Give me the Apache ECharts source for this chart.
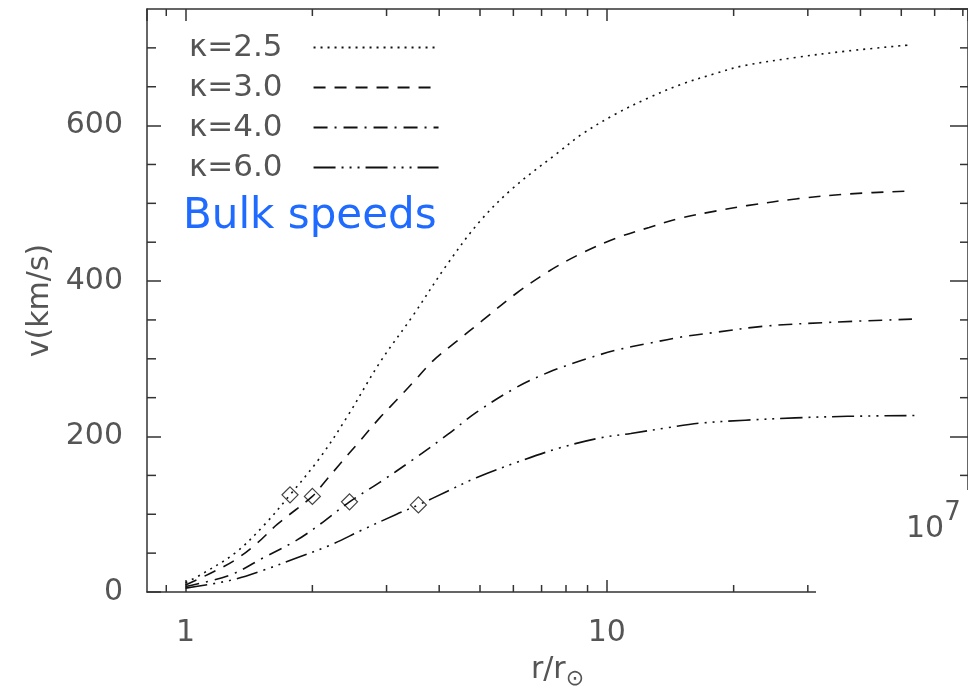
<!DOCTYPE html>
<html>
<head>
<meta charset="utf-8">
<script src="https://cdn.jsdelivr.net/npm/echarts@6/dist/echarts.min.js"></script>
<style>
  html, body { margin: 0; padding: 0; background: #fff; }
  #chart { width: 968px; height: 697px; }
</style>
</head>
<body>
<div id="chart"></div>
<script>
// Bulk flow speed v (km/s) against heliocentric distance r/r_sun, one curve per kappa.
const rK25 = [1.0, 1.085, 1.31, 1.53, 1.77, 2.08, 2.41, 2.89, 3.46, 4.16, 4.98, 5.97, 7.69, 8.73, 10.5, 12.6, 15.0, 18.1, 21.1, 28.4, 37.3, 53.0];
const vK25 = [12, 22, 50, 85, 125, 172, 224, 295, 355, 420, 476, 519, 566, 589, 615, 636, 653, 667, 677, 688, 696, 704];

const rK30 = [1.0, 1.165, 1.31, 1.48, 1.65, 2.0, 2.12, 2.32, 2.59, 2.89, 3.17, 3.46, 3.86, 4.39, 5.06, 6.09, 7.30, 8.73, 10.5, 12.6, 15.0, 18.1, 21.5, 28.4, 37.3, 53.0];
const vK30 = [9, 26, 41, 63, 87, 123, 139, 164, 194, 224, 247, 269, 297, 322, 349, 384, 413, 436, 455, 469, 481, 490, 497, 506, 512, 516];

const rK40 = [1.0, 1.278, 1.53, 1.84, 2.12, 2.45, 2.89, 3.46, 4.20, 4.90, 6.09, 7.30, 8.73, 10.5, 12.6, 15.0, 18.1, 23.7, 34.1, 53.0];
const vK40 = [7, 22, 44, 67, 90, 116, 141, 170, 203, 231, 263, 283, 298, 311, 320, 328, 334, 342, 347, 351];

const rK60 = [1.0, 1.278, 1.53, 1.84, 2.20, 2.63, 3.17, 3.57, 4.16, 4.90, 6.2, 7.69, 9.6, 11.4, 13.8, 16.5, 21.3, 28.0, 37.3, 54.0];
const vK60 = [5, 15, 28, 44, 60, 80, 100, 112, 129, 147, 168, 185, 198, 204, 211, 217, 221, 224, 226, 227];

// Sonic-point markers, one per curve.
const sonicR = [1.77, 2.0, 2.45, 3.57];
const sonicV = [125, 123, 116, 112];

const seriesNames = ['\u03ba=2.5', '\u03ba=3.0', '\u03ba=4.0', '\u03ba=6.0'];

// Axis ranges and tick positions.
const X_MIN = 0.81, X_MAX = 72;
const Y_MIN = 0, Y_MAX = 750, Y_STEP = 200;
const xMinorTicks = [0.9, 2, 3, 4, 5, 6, 7, 8, 9, 20, 30, 40, 50, 60, 70];
const yMinorTicks = [50, 100, 150, 250, 300, 350, 450, 500, 550, 650, 700];

const FONT = 'DejaVu Sans';
const INK = '#333';
const TEXT = '#555';

const chart = echarts.init(document.getElementById('chart'), null, { renderer: 'canvas' });

function pairs(r, v) { return r.map((x, i) => [x, v[i]]); }

const dashPatterns = [
  [2, 5],
  [12, 9],
  [14, 7, 2, 7],
  [22, 6, 2, 6, 2, 6, 2, 6]
];
const curves = [[rK25, vK25], [rK30, vK30], [rK40, vK40], [rK60, vK60]];

const lineSeries = curves.map((c, i) => ({
  name: seriesNames[i],
  type: 'line',
  data: pairs(c[0], c[1]),
  smooth: 0.35,
  symbol: 'none',
  showSymbol: false,
  lineStyle: { color: '#111', width: 1.6, type: dashPatterns[i] },
  itemStyle: { color: '#111' },
  z: 3
}));

const baseX = {
  type: 'log', logBase: 10, min: X_MIN, max: X_MAX,
  axisLine: { show: true, onZero: false, lineStyle: { color: INK, width: 1.5 } },
  axisTick: { show: true, inside: true, length: 12, lineStyle: { color: INK, width: 1.5 } },
  splitLine: { show: false },
  minorTick: { show: false }
};
const baseY = {
  type: 'value', min: Y_MIN, max: Y_MAX, interval: Y_STEP,
  axisLine: { show: true, onZero: false, lineStyle: { color: INK, width: 1.5 } },
  splitLine: { show: false }
};

const option = {
  animation: false,
  backgroundColor: '#fff',
  grid: { left: 147, top: 9, right: -3, bottom: 105, containLabel: false },
  legend: {
    data: seriesNames,
    orient: 'vertical',
    left: 184, top: 27,
    align: 'right',
    itemWidth: 125, itemHeight: 14, itemGap: 9,
    itemStyle: { color: 'rgba(0,0,0,0)', borderWidth: 0, opacity: 0 },
    textStyle: { fontFamily: FONT, fontSize: 31, color: TEXT, padding: [0, 26, 0, 0] },
    selectedMode: false
  },
  xAxis: [
    Object.assign({}, baseX, {
      position: 'bottom',
      axisLabel: { show: true, fontFamily: FONT, fontSize: 30, color: TEXT, margin: 26, showMinLabel: false, showMaxLabel: false },
      name: 'r/r{s|\u2299}',
      nameLocation: 'middle', nameGap: 58,
      nameTextStyle: {
        fontFamily: FONT, fontSize: 30, color: TEXT,
        rich: { s: { fontFamily: FONT, fontSize: 22, color: TEXT, padding: [18, 0, 0, 0] } }
      }
    }),
    Object.assign({}, baseX, { position: 'top', axisLabel: { show: false } })
  ],
  yAxis: [
    Object.assign({}, baseY, {
      position: 'left',
      axisTick: { show: true, inside: true, length: 14, lineStyle: { color: INK, width: 1.5 } },
      axisLabel: { fontFamily: FONT, fontSize: 30, color: TEXT, margin: 24, showMaxLabel: false },
      name: 'v(km/s)', nameLocation: 'middle', nameGap: 90, nameRotate: 90,
      nameTextStyle: { fontFamily: FONT, fontSize: 30, color: TEXT }
    }),
    Object.assign({}, baseY, {
      position: 'right',
      axisTick: { show: true, inside: true, length: 18, lineStyle: { color: INK, width: 1.5 } },
      axisLabel: { show: false }
    })
  ],
  series: lineSeries.concat([
    {
      name: 'sonic',
      type: 'scatter',
      data: pairs(sonicR, sonicV),
      symbol: 'diamond',
      symbolSize: 16,
      itemStyle: { color: 'rgba(255,255,255,0)', borderColor: '#111', borderWidth: 1.2 },
      z: 4, silent: true
    },
    {
      name: 'xMinor',
      type: 'custom',
      data: xMinorTicks.map(r => [r, Y_MIN]),
      clip: false, silent: true,
      renderItem: function (params, api) {
        const r = api.value(0);
        const b = api.coord([r, Y_MIN]);
        const t = api.coord([r, Y_MAX]);
        const st = { stroke: INK, lineWidth: 1.5 };
        return { type: 'group', children: [
          { type: 'line', shape: { x1: b[0], y1: b[1], x2: b[0], y2: b[1] - 7 }, style: st },
          { type: 'line', shape: { x1: t[0], y1: t[1], x2: t[0], y2: t[1] + 7 }, style: st }
        ] };
      }
    },
    {
      name: 'yMinor',
      type: 'custom',
      data: yMinorTicks.map(v => [X_MIN, v]),
      clip: false, silent: true,
      renderItem: function (params, api) {
        const v = api.value(1);
        const l = api.coord([X_MIN, v]);
        const r = api.coord([X_MAX, v]);
        const st = { stroke: INK, lineWidth: 1.5 };
        return { type: 'group', children: [
          { type: 'line', shape: { x1: l[0], y1: l[1], x2: l[0] + 9, y2: l[1] }, style: st },
          { type: 'line', shape: { x1: r[0], y1: r[1], x2: r[0] - 8, y2: r[1] }, style: st }
        ] };
      }
    }
  ]),
  graphic: [
    {
      type: 'text', left: 183, top: 196, z: 10,
      style: { text: 'Bulk speeds', fontFamily: FONT, fontSize: 42, fill: '#1f6bff' }
    },
    {
      type: 'rect', left: 816, top: 490, z: 20,
      shape: { width: 160, height: 210 },
      style: { fill: '#fff' }
    },
    {
      type: 'text', left: 906, top: 500, z: 21,
      style: {
        text: '{b|10}{p|7}',
        rich: {
          b: { fontFamily: FONT, fontSize: 30, fill: TEXT, padding: [14, 0, 0, 0] },
          p: { fontFamily: FONT, fontSize: 26, fill: TEXT, verticalAlign: 'top' }
        }
      }
    }
  ]
};

chart.setOption(option);
</script>
</body>
</html>
